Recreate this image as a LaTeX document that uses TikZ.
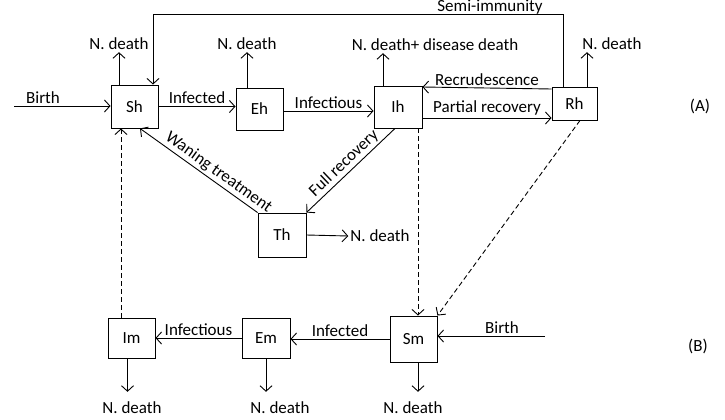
\documentclass[tikz,border=0pt]{standalone}
\usepackage{fontspec}
\setmainfont{Carlito}
\usetikzlibrary{arrows.meta,positioning}
\begin{document}
\begin{tikzpicture}[
    x=1pt, y=-1pt,
    font=\fontsize{17}{20}\selectfont,
    comp/.style={draw, line width=0.9pt, minimum width=47pt, minimum height=43pt, inner sep=0pt, fill=white},
    lbl/.style={inner sep=2pt},
    arr/.style={-{Straight Barb[length=5.5pt,width=12pt]}, line width=0.9pt},
    darr/.style={arr, dash pattern=on 5pt off 3pt}
]
\useasboundingbox[fill=white] (0,0) rectangle (725,420);
\node[comp] (Sh) at (134.5,106.5) {Sh};
\node[comp, minimum height=42pt] (Eh) at (259.5,109) {Eh};
\node[comp, minimum width=48pt, minimum height=42pt] (Ih) at (398,107) {Ih};
\node[comp, minimum width=45pt, minimum height=33pt] (Rh) at (574.5,103.5) {Rh};
\node[comp, minimum width=48pt, minimum height=44pt] (Th) at (282,235) {Th};
\node[comp, minimum height=40pt] (Im) at (131.5,338) {Im};
\node[comp, minimum width=48pt, minimum height=40pt] (Em) at (266,338) {Em};
\node[comp, minimum height=46pt] (Sm) at (413.5,339) {Sm};
\node[lbl] (dSh) at (119,44) {N. death};
\node[lbl] (dEh) at (247,44) {N. death};
\node[lbl] (dIh) at (435,45) {N. death+ disease death};
\node[lbl] (dRh) at (612,44) {N. death};
\node[lbl] (dTh) at (380,236) {N. death};
\node[lbl] (dIm) at (132,408) {N. death};
\node[lbl] (dEm) at (280,408) {N. death};
\node[lbl] (dSm) at (413,408) {N. death};
\node[lbl] (semi) at (490,7) {Semi-immunity};
\node[lbl] (tagA) at (700,106) {(A)};
\node[lbl] (tagB) at (698,346) {(B)};
\coordinate (bA) at (14,106);
\coordinate (bB) at (545,336);
\draw[arr] (bA) -- node[pos=0.3, above, lbl] {Birth} (bA -| Sh.west);
\draw[arr] (Sh.east) -- node[midway, above, lbl] {Infected} (Sh.east -| Eh.west);
\draw[arr] ([yshift=-2pt]Eh.east) -- node[midway, above, lbl] {Infectious} ([yshift=-2pt]Eh.east -| Ih.west);
\draw[arr] ([yshift=-11pt]Ih.east) -- node[midway, above, lbl] {Partial recovery} ([yshift=-11pt]Ih.east -| Rh.west);
\draw[arr] ([yshift=14.5pt]Rh.west) -- node[midway, above, lbl] {Recrudescence} ([yshift=20pt]Ih.east);
\draw[arr] ([xshift=-3pt]Ih.south) -- node[midway, sloped, above, lbl] {Full recovery} (Th.north east);
\draw[arr] (Th.north west) -- node[pos=0.38, sloped, above, lbl] {Waning treatment} ([xshift=5.5pt]Sh.south);
\draw[arr] (Th.east) -- (dTh.west);
\draw[arr] (dSh.south |- Sh.north) -- (dSh.south);
\draw[arr] (dEh.south |- Eh.north) -- (dEh.south);
\draw[arr] ([xshift=-15pt]Ih.north) -- ([xshift=-15pt]Ih.north |- dIh.south);
\draw[arr] ([xshift=12.5pt]Rh.north) -- ([xshift=12.5pt]Rh.north |- dRh.south);
\draw[arr] ([xshift=-11.5pt]Rh.north) -- ++(0,-72) -| ([xshift=18.5pt]Sh.north);
\draw[darr] ([xshift=-10.5pt]Im.north) -- ([xshift=-10.5pt]Im.north |- Sh.south);
\draw[darr] ([xshift=20pt]Ih.south) -- ([xshift=20pt]Ih.south |- Sm.north);
\draw[darr] ([xshift=5.5pt]Rh.south) -- (Sm.north east);
\draw[arr] (bB) -- node[pos=0.4, above, lbl] {Birth} (bB -| Sm.east);
\draw[arr] (Sm.west) -- node[midway, above, lbl] {Infected} (Sm.west -| Em.east);
\draw[arr] (Em.west) -- node[midway, above, lbl] {Infectious} (Em.west -| Im.east);
\draw[arr, shorten >=8pt] ([xshift=-4pt]Im.south) -- ([xshift=-4pt]Im.south |- dIm.north);
\draw[arr, shorten >=8pt] (Em.south) -- (Em.south |- dEm.north);
\draw[arr, shorten >=8pt] ([xshift=4.5pt]Sm.south) -- ([xshift=4.5pt]Sm.south |- dSm.north);
\end{tikzpicture}
\end{document}
